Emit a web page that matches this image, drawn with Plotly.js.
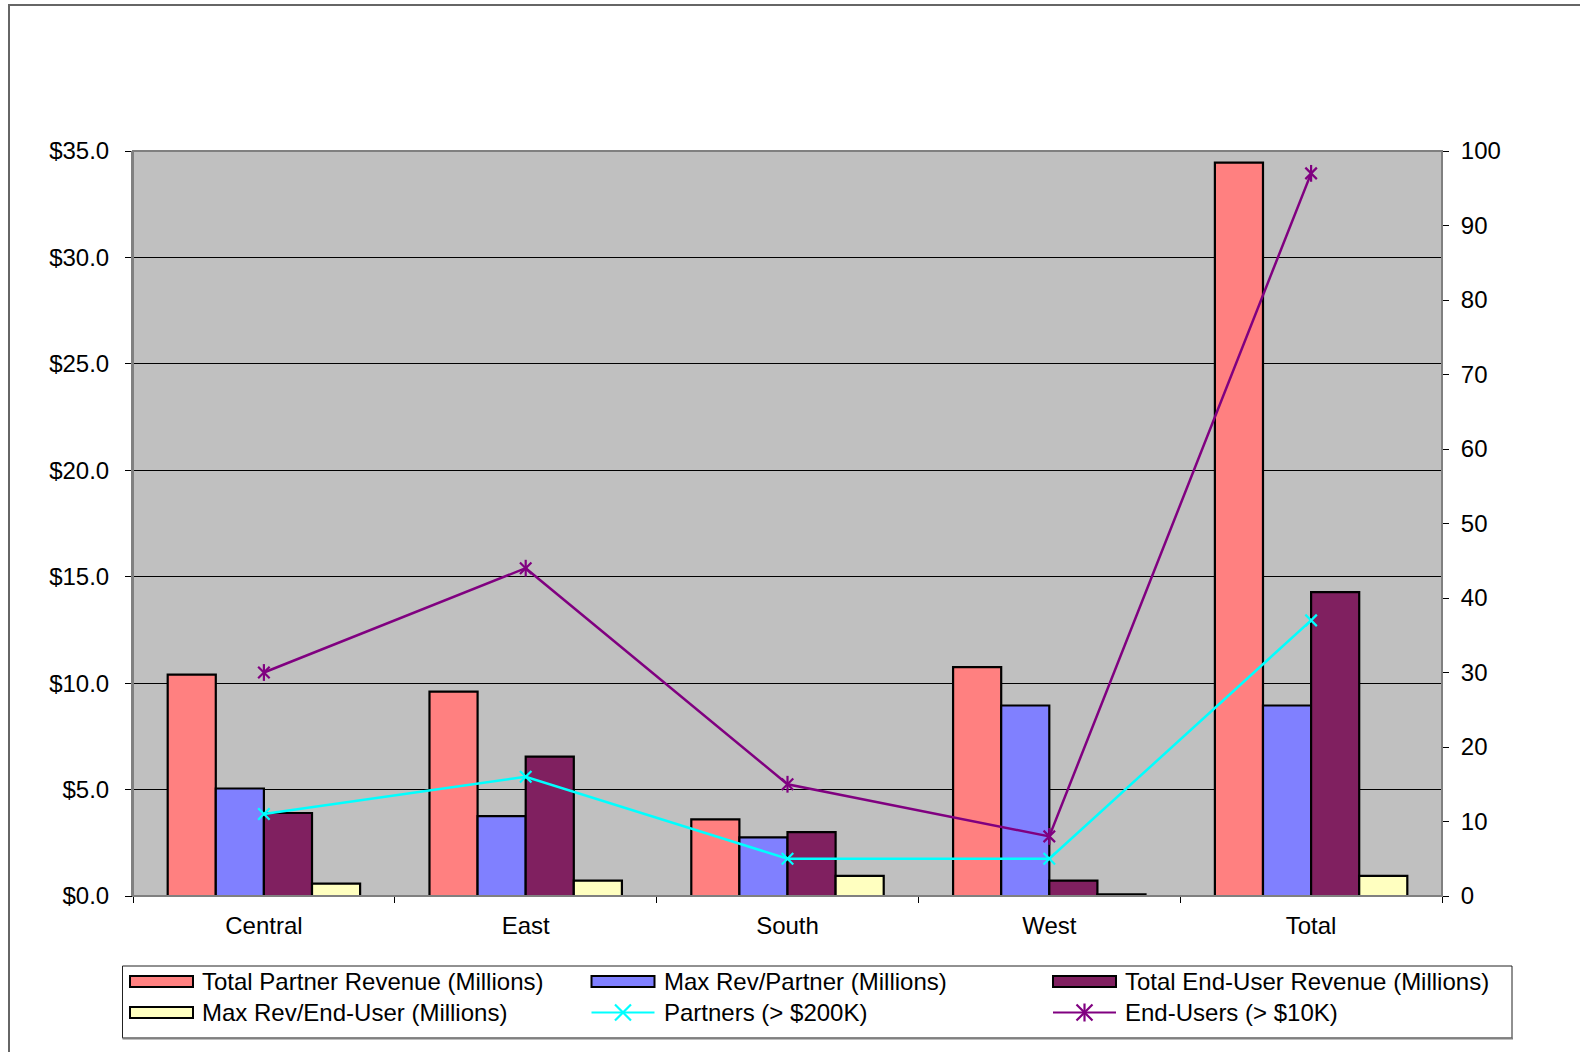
<!DOCTYPE html>
<html>
<head>
<meta charset="utf-8">
<script src="https://cdn.plot.ly/plotly-3.0.1.min.js"></script>
<style>
  html, body { margin: 0; padding: 0; background: #ffffff; }
  #chart { width: 1580px; height: 1052px; }
</style>
</head>
<body>
<div id="chart"></div>
<script>
// Regions along the category axis
const categories = ['Central', 'East', 'South', 'West', 'Total'];

// Revenue series, millions of dollars (left axis)
const totalPartnerRevenue = [10.4, 9.6, 3.6, 10.75, 34.45];
const maxRevPerPartner    = [5.05, 3.75, 2.75, 8.95, 8.95];
const totalEndUserRevenue = [3.9, 6.55, 3.0, 0.72, 14.28];
const maxRevPerEndUser    = [0.58, 0.72, 0.95, 0.08, 0.95];

// Counts (right axis)
const partnersOver200K = [11, 16, 5, 5, 37];
const endUsersOver10K  = [30, 44, 15, 8, 97];

// Series names
const seriesNames = [
  'Total Partner Revenue (Millions)',
  'Max Rev/Partner (Millions)',
  'Total End-User Revenue (Millions)',
  'Max Rev/End-User (Millions)',
  'Partners (> $200K)',
  'End-Users (> $10K)'
];

const FONT = 'Liberation Sans, Arial, Helvetica, sans-serif';
const C_PINK = '#FF8080', C_BLUE = '#8080FF', C_PLUM = '#802060',
      C_YELLOW = '#FFFFC0', C_CYAN = '#00FFFF', C_PURPLE = '#800080';

// Page geometry (pixels)
const PW = 1580, PH = 1052;
const M = { l: 133, r: 138, t: 151, b: 156 };
const W = PW - M.l - M.r, H = PH - M.t - M.b;
const px = x => (x - M.l) / W;
const py = y => (PH - M.b - y) / H;

function barTrace(name, values, color) {
  return {
    type: 'bar', name: name, x: categories, y: values,
    marker: { color: color, line: { color: '#000000', width: 2.2 } },
    hoverinfo: 'skip'
  };
}

const traces = [
  barTrace(seriesNames[0], totalPartnerRevenue, C_PINK),
  barTrace(seriesNames[1], maxRevPerPartner, C_BLUE),
  barTrace(seriesNames[2], totalEndUserRevenue, C_PLUM),
  barTrace(seriesNames[3], maxRevPerEndUser, C_YELLOW),
  {
    type: 'scatter', mode: 'lines+markers', name: seriesNames[4],
    x: categories, y: partnersOver200K, yaxis: 'y2',
    line: { color: C_CYAN, width: 2.5 },
    marker: { symbol: 'x-thin', size: 11.5, color: C_CYAN, line: { color: C_CYAN, width: 2.2 } },
    hoverinfo: 'skip'
  },
  {
    type: 'scatter', mode: 'lines+markers', name: seriesNames[5],
    x: categories, y: endUsersOver10K, yaxis: 'y2',
    line: { color: C_PURPLE, width: 2.5 },
    marker: { symbol: 'x-thin', size: 11.5, color: C_PURPLE, line: { color: C_PURPLE, width: 2.2 } },
    hoverinfo: 'skip'
  },
  {
    // vertical stroke completing the star marker
    type: 'scatter', mode: 'markers', name: seriesNames[5], showlegend: false,
    x: categories, y: endUsersOver10K, yaxis: 'y2',
    marker: { symbol: 'line-ns', size: 12, color: C_PURPLE, line: { color: C_PURPLE, width: 2.2 } },
    hoverinfo: 'skip'
  }
];

// Hand-built legend box, three columns by two rows
const shapes = [];
const annotations = [];
const colKey = [130, 591.5, 1053];
const colText = [200, 662, 1123];
const rowY = [981.5, 1012.5];
const KEY_W = 63, KEY_H = 11;

function keyRect(col, row, color) {
  shapes.push({
    type: 'rect', xref: 'paper', yref: 'paper', layer: 'above',
    x0: px(colKey[col]), x1: px(colKey[col] + KEY_W),
    y0: py(rowY[row] + KEY_H / 2), y1: py(rowY[row] - KEY_H / 2),
    fillcolor: color, line: { color: '#000000', width: 2 }
  });
}
function seg(x0, y0, x1, y1, color) {
  shapes.push({
    type: 'line', xref: 'paper', yref: 'paper', layer: 'above',
    x0: px(x0), y0: py(y0), x1: px(x1), y1: py(y1),
    line: { color: color, width: 2.2 }
  });
}
function keyLine(col, row, color, star) {
  const y = rowY[row], x0 = colKey[col], cx = x0 + KEY_W / 2, r = 8;
  seg(x0, y, x0 + KEY_W, y, color);
  seg(cx - r, y - r, cx + r, y + r, color);
  seg(cx - r, y + r, cx + r, y - r, color);
  if (star) seg(cx, y - r - 1, cx, y + r + 1, color);
}

// outer chart frame
shapes.push({
  type: 'rect', xref: 'paper', yref: 'paper', layer: 'below',
  x0: px(9), x1: px(PW + 10), y0: py(PH + 10), y1: py(5),
  line: { color: '#666666', width: 2 }
});
// plot area border
shapes.push({
  type: 'rect', xref: 'paper', yref: 'paper', layer: 'above',
  x0: 0, x1: 1, y0: 0, y1: 1,
  line: { color: '#808080', width: 2 }
});
// legend frame
shapes.push({
  type: 'rect', xref: 'paper', yref: 'paper', layer: 'above',
  x0: px(122.5), x1: px(1512), y0: py(1038), y1: py(966),
  line: { color: '#222222', width: 1 }
});
shapes.push({
  type: 'line', xref: 'paper', yref: 'paper', layer: 'above',
  x0: px(122.5), x1: px(1513), y0: py(1038.5), y1: py(1038.5),
  line: { color: '#808080', width: 2 }
});

keyRect(0, 0, C_PINK);
keyRect(1, 0, C_BLUE);
keyRect(2, 0, C_PLUM);
keyRect(0, 1, C_YELLOW);
keyLine(1, 1, C_CYAN, false);
keyLine(2, 1, C_PURPLE, true);

const legendOrder = [[0, 0], [1, 0], [2, 0], [0, 1], [1, 1], [2, 1]];
legendOrder.forEach(([col, row], i) => {
  annotations.push({
    xref: 'paper', yref: 'paper', x: px(colText[col]), y: py(rowY[row]),
    xanchor: 'left', yanchor: 'middle', showarrow: false,
    text: seriesNames[i], font: { family: FONT, size: 24, color: '#000000' }
  });
});

const axisFont = { family: FONT, size: 24, color: '#000000' };

const layout = {
  width: PW, height: PH, autosize: false,
  margin: { l: M.l, r: M.r, t: M.t, b: M.b, pad: 0 },
  paper_bgcolor: '#FFFFFF', plot_bgcolor: '#C0C0C0',
  showlegend: false,
  barmode: 'group', bargap: 0.265, bargroupgap: 0,
  font: { family: FONT, size: 24, color: '#000000' },
  xaxis: {
    type: 'category', tickson: 'boundaries', ticks: 'outside', ticklen: 6,
    tickcolor: '#000000', tickwidth: 1, ticklabelstandoff: 8,
    showline: true, linecolor: '#000000', linewidth: 1,
    showgrid: false, tickfont: axisFont, fixedrange: true
  },
  yaxis: {
    range: [0, 35], dtick: 5, tickprefix: '$', tickformat: '.1f',
    ticks: 'outside', ticklen: 6, tickcolor: '#000000', tickwidth: 1,
    ticklabelstandoff: 11,
    showline: true, linecolor: '#808080', linewidth: 2,
    showgrid: true, gridcolor: '#000000', gridwidth: 1,
    zeroline: false, tickfont: axisFont, fixedrange: true
  },
  yaxis2: {
    overlaying: 'y', side: 'right', range: [0, 100], dtick: 10,
    ticks: 'outside', ticklen: 6, tickcolor: '#000000', tickwidth: 1,
    ticklabelstandoff: 7,
    showline: true, linecolor: '#000000', linewidth: 1,
    showgrid: false, zeroline: false, tickfont: axisFont, fixedrange: true
  },
  shapes: shapes,
  annotations: annotations
};

Plotly.newPlot('chart', traces, layout, { displayModeBar: false, staticPlot: true });
</script>
</body>
</html>
